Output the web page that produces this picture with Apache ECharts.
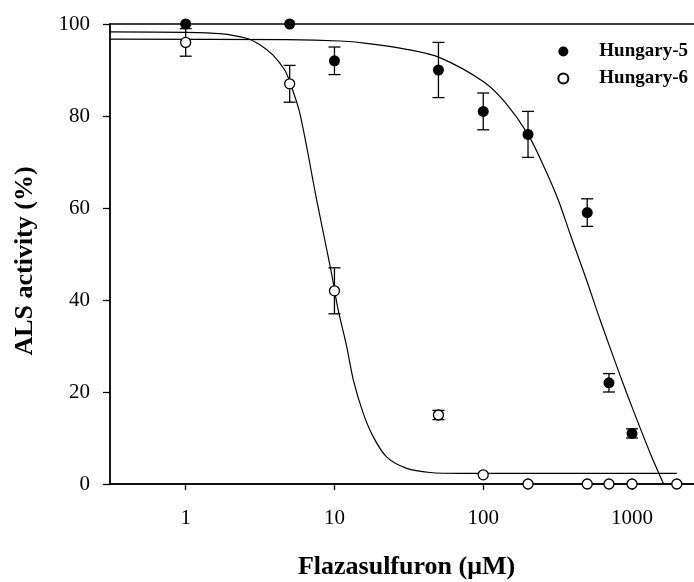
<!DOCTYPE html>
<html>
<head>
<meta charset="utf-8">
<script src="https://cdn.jsdelivr.net/npm/echarts@6/dist/echarts.min.js"></script>
<style>
html,body{margin:0;padding:0;background:#fff;}
#chart{width:694px;height:582px;}
</style>
</head>
<body>
<div id="chart"></div>
<script>
// Data
const concentrations5 = [1, 5, 10, 50, 100, 200, 500, 700, 1000];
const activity5 = [100, 100, 92, 90, 81, 76, 59, 22, 11];
const error5 = [0, 0, 3, 6, 4, 5, 3, 2, 1];

const concentrations6 = [1, 5, 10, 50, 100, 200, 500, 700, 1000, 2000];
const activity6 = [96, 87, 42, 15, 2, 0, 0, 0, 0, 0];
const error6 = [3, 4, 5, 1, 0, 0, 0, 0, 0, 0];

// Fitted curves
const fit5X = [0.31, 4.8, 10.9, 16.4, 30.5, 51, 100, 140, 200, 260, 320, 384, 494, 610, 834, 1020, 1325, 1630];
const fit5Y = [96.7, 96.6, 96.3, 95.8, 94.5, 92.7, 87.5, 83, 76, 68.5, 61.7, 54.3, 44.4, 35.7, 23.5, 16, 6.7, 0];

const fit6X = [0.31, 1, 1.7, 2.56, 3.15, 3.85, 4.63, 5.0, 5.85, 7.6, 9.56, 10, 10.6, 12.1, 13.4, 15.6, 18.2, 22.4, 30.6, 43.9, 69.8, 100, 2000];
const fit6Y = [98.3, 98.2, 97.9, 96.9, 95.5, 93.3, 90.0, 87.5, 80.6, 61.7, 45.8, 42.2, 37.8, 29.8, 22.6, 15.4, 10.3, 5.9, 3.4, 2.5, 2.3, 2.3, 2.3];

const xTicks = [1, 10, 100, 1000];
const seriesNames = ['Hungary-5', 'Hungary-6'];

const FONT = '"Liberation Serif", "DejaVu Serif", serif';

function zip(xs, ys) { return xs.map((x, i) => [x, ys[i]]); }
function zip3(xs, ys, es) { return xs.map((x, i) => [x, ys[i], es[i]]); }

function errRender(params, api) {
  const x = api.value(0), y = api.value(1), e = api.value(2);
  if (!e) return null;
  const top = api.coord([x, y + e]);
  const bot = api.coord([x, y - e]);
  const hw = 6;
  const st = { stroke: '#000', lineWidth: 1.3 };
  return {
    type: 'group',
    children: [
      { type: 'line', shape: { x1: top[0], y1: top[1], x2: bot[0], y2: bot[1] }, style: st },
      { type: 'line', shape: { x1: top[0] - hw, y1: top[1], x2: top[0] + hw, y2: top[1] }, style: st },
      { type: 'line', shape: { x1: bot[0] - hw, y1: bot[1], x2: bot[0] + hw, y2: bot[1] }, style: st }
    ]
  };
}

const chart = echarts.init(document.getElementById('chart'));
chart.setOption({
  animation: false,
  backgroundColor: '#fff',
  grid: {
    left: 110, top: 24, width: 593, height: 460,
    outerBoundsMode: 'none', containLabel: false,
    show: true, borderColor: '#000', borderWidth: 1.3, backgroundColor: 'transparent'
  },
  legend: {
    data: seriesNames,
    orient: 'vertical',
    right: 6, top: 42, padding: 0,
    itemWidth: 62, itemHeight: 10, itemGap: 8,
    textStyle: { fontFamily: FONT, fontWeight: 'bold', fontSize: 19, color: '#000' }
  },
  xAxis: {
    type: 'log', logBase: 10, min: 0.31, max: 3000,
    name: 'Flazasulfuron (\u03bcM)',
    nameLocation: 'middle', nameGap: 70,
    nameTextStyle: { fontFamily: FONT, fontWeight: 'bold', fontSize: 26, color: '#000' },
    axisLine: { lineStyle: { color: '#000', width: 1.5 } },
    axisTick: { inside: false, length: 6, customValues: xTicks, lineStyle: { color: '#000', width: 1.3 } },
    axisLabel: { customValues: xTicks, margin: 24, fontFamily: FONT, fontSize: 21, color: '#000',
      formatter: v => String(Math.round(v)) },
    splitLine: { show: false },
    minorTick: { show: false }
  },
  yAxis: {
    type: 'value', min: 0, max: 100, interval: 20,
    name: 'ALS activity (%)',
    nameLocation: 'middle', nameGap: 72, nameRotate: 90,
    nameTextStyle: { fontFamily: FONT, fontWeight: 'bold', fontSize: 26, color: '#000', padding: [0, 14, 0, 0] },
    axisLine: { show: true, lineStyle: { color: '#000', width: 1.5 } },
    axisTick: { show: true, inside: false, length: 7, lineStyle: { color: '#000', width: 1.3 } },
    axisLabel: { margin: 20, fontFamily: FONT, fontSize: 21, color: '#000' },
    splitLine: { show: false }
  },
  series: [
    {
      name: 'fit5', type: 'line', data: zip(fit5X, fit5Y), smooth: 0.3, showSymbol: false, symbol: 'none',
      lineStyle: { color: '#000', width: 1.2 }, z: 3, silent: true
    },
    {
      name: 'fit6', type: 'line', data: zip(fit6X, fit6Y), smooth: 0.3, showSymbol: false, symbol: 'none',
      lineStyle: { color: '#000', width: 1.2 }, z: 3, silent: true
    },
    {
      name: 'err5', type: 'custom', renderItem: errRender, data: zip3(concentrations5, activity5, error5),
      clip: false, z: 4, silent: true
    },
    {
      name: 'err6', type: 'custom', renderItem: errRender, data: zip3(concentrations6, activity6, error6),
      clip: false, z: 4, silent: true
    },
    {
      name: 'Hungary-5', type: 'scatter', data: zip(concentrations5, activity5), symbol: 'circle', symbolSize: 11,
      itemStyle: { color: '#000', opacity: 1 }, clip: false, z: 6
    },
    {
      name: 'Hungary-6', type: 'scatter', data: zip(concentrations6, activity6), symbol: 'circle', symbolSize: 10,
      itemStyle: { color: '#fff', borderColor: '#000', borderWidth: 1.3, opacity: 1 }, clip: false, z: 6
    }
  ]
});
</script>
</body>
</html>
